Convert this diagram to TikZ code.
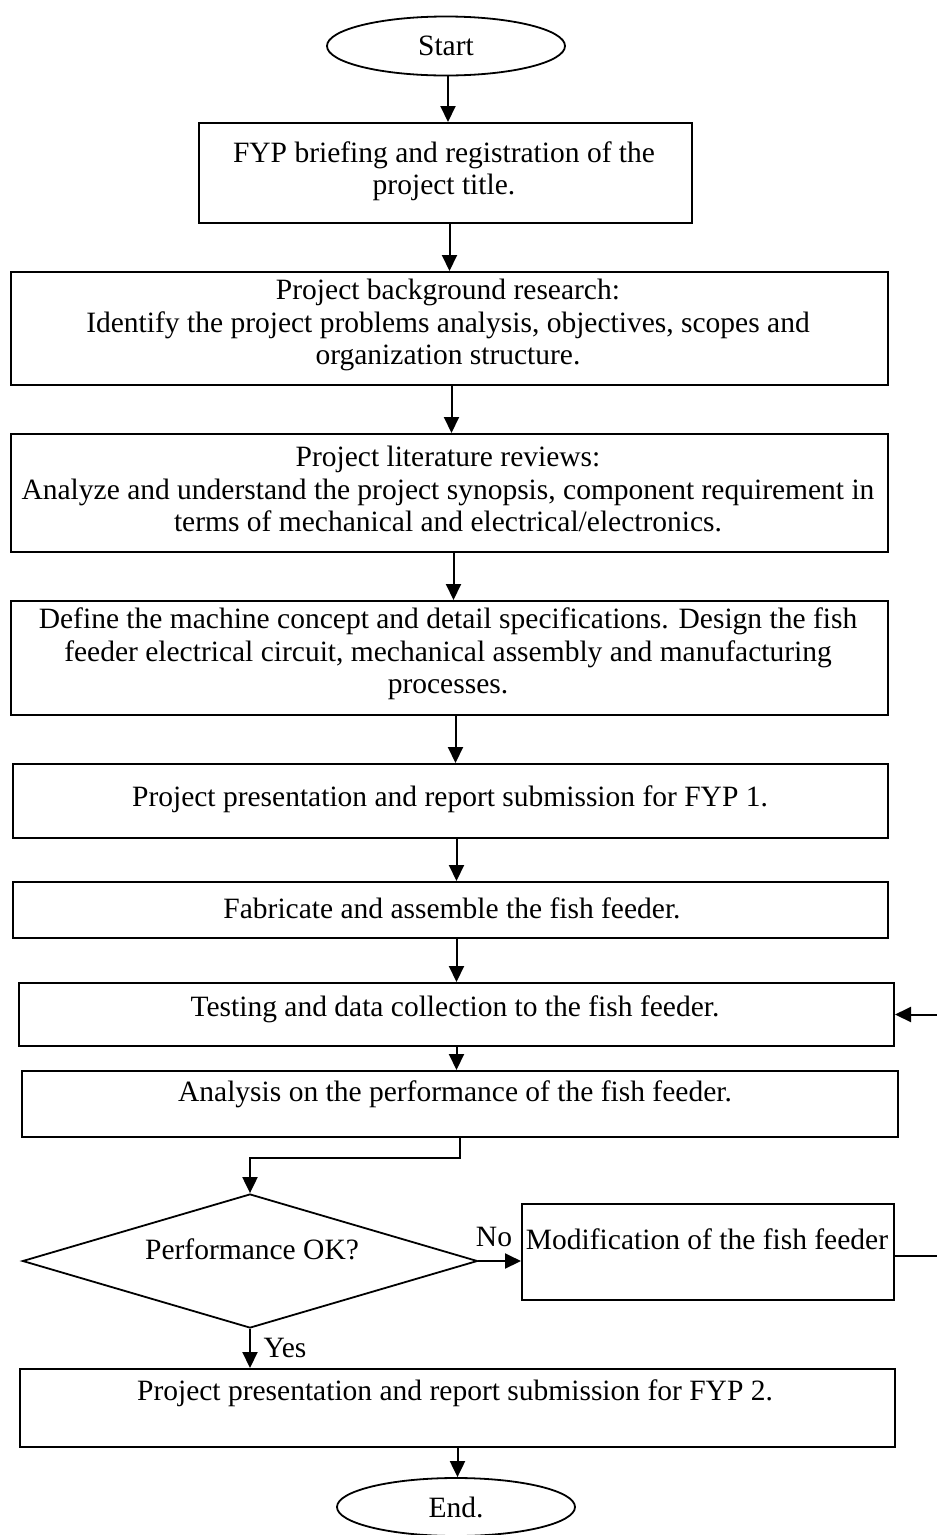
\documentclass[tikz,border=0pt]{standalone}
\usepackage{fontspec}
\setmainfont{Liberation Serif}
\usetikzlibrary{shapes.geometric,arrows.meta}
\begin{document}
\begin{tikzpicture}[x=1pt,y=-1pt,
  every node/.style={font=\fontsize{29.5}{32.5}\selectfont},
  box/.style={draw,line width=2pt,rectangle,anchor=north west,inner sep=0pt},
  term/.style={draw,line width=1.8pt,ellipse,inner sep=0pt,minimum width=238pt,minimum height=59pt},
  txt/.style={align=center,inner sep=0pt},
  arr/.style={line width=2pt,-{Triangle[length=16pt,width=15pt]}},
  ln/.style={line width=1.8pt}]
\clip (0,0) rectangle (937,1535);
\fill[white] (0,0) rectangle (937,1535);
% nodes
\node[term] (start) at (446,46) {Start};
\node[box,minimum width=493pt,minimum height=100pt] (b1) at (198,122) {};
\node[txt] (t1) at (444,171) {FYP briefing and registration of the\\project title.};
\node[box,minimum width=877pt,minimum height=113pt] (b2) at (10,271) {};
\node[txt] (t2) at (448,325) {Project background research:\\Identify the project problems analysis, objectives, scopes and\\organization structure.};
\node[box,minimum width=877pt,minimum height=118pt] (b3) at (10,433) {};
\node[txt] (t3) at (448,489) {Project literature reviews:\\Analyze and understand the project synopsis, component requirement in\\terms of mechanical and electrical/electronics.};
\node[box,minimum width=877pt,minimum height=114pt] (b4) at (10,600) {};
\node[txt] (t4) at (448,654) {Define the machine concept and detail specifications. Design the fish\\feeder electrical circuit, mechanical assembly and manufacturing\\processes.};
\node[box,minimum width=875pt,minimum height=74pt] (b5) at (12,763) {};
\node[txt] (t5) at (450,799) {Project presentation and report submission for FYP 1.};
\node[box,minimum width=875pt,minimum height=56pt] (b6) at (12,881) {};
\node[txt] (t6) at (452,908) {Fabricate and assemble the fish feeder.};
\node[box,minimum width=875pt,minimum height=63pt] (b7) at (18,982) {};
\node[txt] (t7) at (455,1009) {Testing and data collection to the fish feeder.};
\node[box,minimum width=876pt,minimum height=66pt] (b8) at (21,1070) {};
\node[txt] (t8) at (455,1094) {Analysis on the performance of the fish feeder.};
\node[draw,line width=1.8pt,diamond,inner sep=0pt,minimum width=455pt,minimum height=134pt] (dec) at (250,1261) {};
\node[txt] (td) at (252,1249) {Performance OK?};
\node[box,minimum width=372pt,minimum height=96pt] (mod) at (521,1203) {};
\node[txt] (tm) at (707,1239) {Modification of the fish feeder};
\node[box,minimum width=875pt,minimum height=78pt] (b9) at (19,1368) {};
\node[txt] (t9) at (455,1393) {Project presentation and report submission for FYP 2.};
\node[term,minimum height=58pt] (end) at (456,1507) {End.};
\node[txt] (no) at (494,1237) {No};
\node[txt] (yes) at (285,1348) {Yes};
\coordinate (far) at (950,1256);
% connectors
\draw[arr] ([xshift=2pt]start.south) -- ([xshift=2pt]start.south |- b1.north);
\draw[arr] ([xshift=4pt]b1.south) -- ([xshift=4pt]b1.south |- b2.north);
\draw[arr] ([xshift=2pt]b2.south) -- ([xshift=2pt]b2.south |- b3.north);
\draw[arr] ([xshift=4pt]b3.south) -- ([xshift=4pt]b3.south |- b4.north);
\draw[arr] ([xshift=6pt]b4.south) -- ([xshift=6pt]b4.south |- b5.north);
\draw[arr] ([xshift=6pt]b5.south) -- ([xshift=6pt]b5.south |- b6.north);
\draw[arr] ([xshift=6pt]b6.south) -- ([xshift=6pt]b6.south |- b7.north);
\draw[arr] ([xshift=0pt]b7.south) -- ([xshift=0pt]b7.south |- b8.north);
\draw[arr] (b8.south) -- ++(0,20) -| (dec.north);
\draw[arr] (dec.east) -- (dec.east -| mod.west);
\draw[arr] (dec.south) -- (dec.south |- b9.north);
\draw[arr] (b9.south) -- (b9.south |- end.north);
\draw[ln] (mod.east |- far) -- (far) -- (far |- b7.east);
\draw[arr] (far |- b7.east) -- (b7.east);
\end{tikzpicture}
\end{document}
